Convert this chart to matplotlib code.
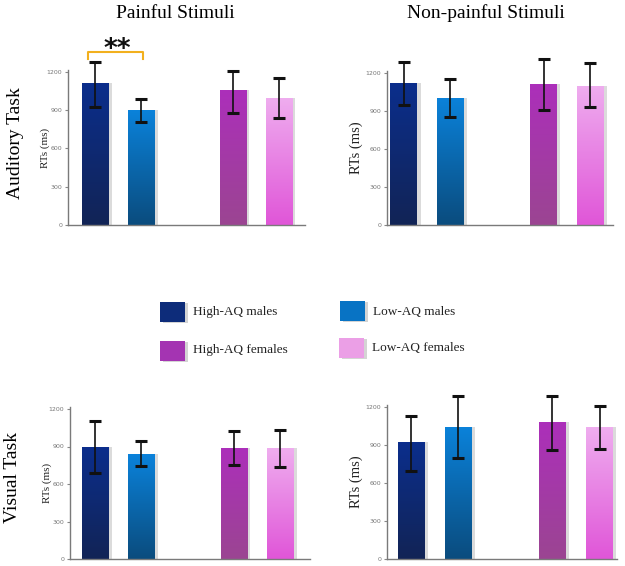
import numpy as np
import matplotlib
matplotlib.use("Agg")
import matplotlib.pyplot as plt
from matplotlib.colors import LinearSegmentedColormap
from matplotlib.patches import Rectangle
import matplotlib.patheffects as pe

# ---- data ----
groups = ["High-AQ males", "Low-AQ males", "High-AQ females", "Low-AQ females"]
positions = [0, 1, 3, 4]

aud_pain_mean = [1116, 900, 1056, 998]
aud_pain_lo = [925, 808, 881, 841]
aud_pain_hi = [1278, 990, 1208, 1155]

aud_nonpain_mean = [1120, 1002, 1110, 1097]
aud_nonpain_lo = [943, 849, 908, 928]
aud_nonpain_hi = [1282, 1150, 1305, 1280]

vis_pain_mean = [898, 840, 885, 885]
vis_pain_lo = [685, 744, 752, 739]
vis_pain_hi = [1106, 944, 1021, 1032]

vis_nonpain_mean = [921, 1044, 1079, 1042]
vis_nonpain_lo = [692, 797, 860, 868]
vis_nonpain_hi = [1131, 1287, 1284, 1205]

yticks = [0, 300, 600, 900, 1200]

# gradient colors (top, bottom)
grad_colors = [("#0b2e8c", "#122456"),
               ("#0a82da", "#0b4c7e"),
               ("#ac2fba", "#9b4592"),
               ("#efadef", "#e056d8")]
legend_colors = ["#0d2c7a", "#0873c4", "#a434b2", "#eb9fe6"]

W, H = 625, 566
fig = plt.figure(figsize=(W / 100, H / 100), dpi=100)
serif = "Liberation Serif"


def px_axes(left, right, zero_y, top_y):
    return fig.add_axes([left / W, 1 - zero_y / H, (right - left) / W, (zero_y - top_y) / H])


def draw_panel(ax, means, lo, hi, xlim, label_size, labelpad):
    ax.set_xlim(*xlim)
    ax.set_ylim(0, 1215)
    bars = ax.bar(positions, means, width=0.57, color="none", zorder=2)
    for b, (c_top, c_bot) in zip(bars, grad_colors):
        b.set_path_effects([pe.SimplePatchShadow(offset=(2.5, 0), shadow_rgbFace="#b0b0b0", alpha=0.45),
                            pe.Normal()])
        cmap = LinearSegmentedColormap.from_list("g", [c_bot, c_top])
        grad = np.linspace(0, 1, 100).reshape(-1, 1)
        x0, y0, w, h = b.get_x(), b.get_y(), b.get_width(), b.get_height()
        im = ax.imshow(grad, cmap=cmap, aspect="auto", origin="lower",
                       extent=[x0, x0 + w, y0, y0 + h], zorder=2.5)
        im.set_clip_path(b)
    yerr = [np.array(means) - np.array(lo), np.array(hi) - np.array(means)]
    ax.errorbar(positions, means, yerr=yerr, fmt="none", ecolor="#111111",
                elinewidth=1.2, capsize=4.5, capthick=2.2, zorder=4, clip_on=False)
    for s in ["top", "right"]:
        ax.spines[s].set_visible(False)
    for s in ["left", "bottom"]:
        ax.spines[s].set_color("#7a7a7a")
        ax.spines[s].set_linewidth(1.0)
    ax.set_yticks(yticks)
    ax.set_yticklabels([str(t) for t in yticks], fontsize=4.5, color="#777777")
    ax.tick_params(axis="y", length=2.5, width=0.8, color="#888888", pad=1.5)
    ax.set_xticks([])
    ax.set_ylabel("RTs (ms)", fontfamily=serif, fontsize=label_size, color="#222222",
                  labelpad=labelpad)
    ax.set_xlim(*xlim)


ax1 = px_axes(68, 305, 225, 225 - 1215 * 153 / 1200)
draw_panel(ax1, aud_pain_mean, aud_pain_lo, aud_pain_hi, (-0.59, 4.57), 8, -2)
ax2 = px_axes(387, 613, 225, 225 - 1215 * 152.3 / 1200)
draw_panel(ax2, aud_nonpain_mean, aud_nonpain_lo, aud_nonpain_hi, (-0.36, 4.49), 10.5, 2)
ax3 = px_axes(70, 310, 559, 559 - 1215 * 150 / 1200)
draw_panel(ax3, vis_pain_mean, vis_pain_lo, vis_pain_hi, (-0.54, 4.65), 8, -2)
ax4 = px_axes(387, 617, 559, 559 - 1215 * 152 / 1200)
draw_panel(ax4, vis_nonpain_mean, vis_nonpain_lo, vis_nonpain_hi, (-0.51, 4.37), 10.5, 2)

# significance bracket
bx0, bx1, by, bt = -0.15, 1.04, 1357, 1305
ax1.plot([bx0, bx0, bx1, bx1], [bt, by, by, bt], color="#f2b01e", lw=1.5,
         clip_on=False, zorder=5)
fig.text(117 / W, 1 - 50 / H, "**", ha="center", va="center", fontsize=19,
         fontweight="bold", fontfamily="DejaVu Sans", color="#111111")

# titles
fig.text(175 / W, 1 - 13 / H, "Painful Stimuli", ha="center", va="center",
         fontfamily=serif, fontsize=14)
fig.text(486 / W, 1 - 13 / H, "Non-painful Stimuli", ha="center", va="center",
         fontfamily=serif, fontsize=14)
fig.text(16 / W, 1 - 143 / H, "Auditory Task", ha="center", va="center", rotation=90,
         fontfamily=serif, fontsize=14)
fig.text(13 / W, 1 - 477 / H, "Visual Task", ha="center", va="center", rotation=90,
         fontfamily=serif, fontsize=14)

# legend
leg_items = [(160, 302, 311.5), (340, 301, 312), (160, 341, 350.5), (339, 338, 348)]
for (x, ytop, ytxt), name, col in zip(leg_items, groups, legend_colors):
    r = Rectangle((x / W, 1 - (ytop + 20) / H), 25 / W, 20 / H, transform=fig.transFigure,
                  facecolor=col, edgecolor="none",
                  path_effects=[pe.SimplePatchShadow(offset=(2, -1), shadow_rgbFace="#aaaaaa", alpha=0.5),
                                pe.Normal()])
    fig.add_artist(r)
    fig.text((x + 33) / W, 1 - ytxt / H, name, ha="left", va="center",
             fontfamily=serif, fontsize=9.5, color="#222222")

fig.savefig("out.png", dpi=100)
